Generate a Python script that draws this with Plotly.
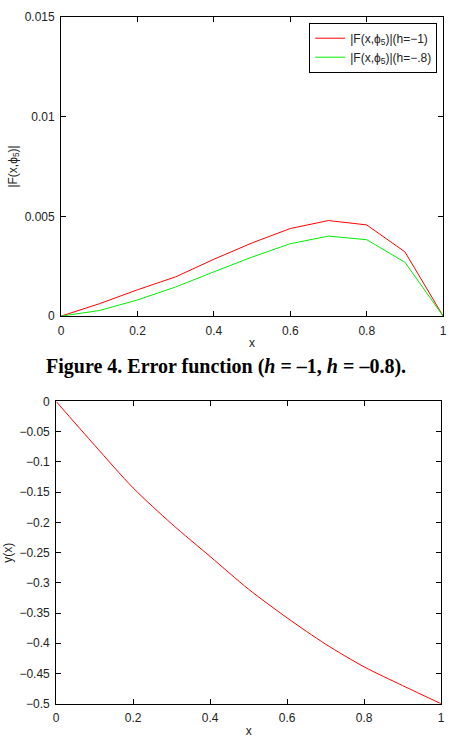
import plotly.graph_objects as go

# ---- data ----
x_err = [0, 0.1, 0.2, 0.3, 0.4, 0.5, 0.6, 0.7, 0.8, 0.9, 1.0]
err_h1 = [0, 0.00062, 0.00132, 0.00197, 0.00285, 0.00367, 0.00439, 0.00479, 0.00457, 0.00322, 0]
err_h08 = [0, 0.00028, 0.00081, 0.00146, 0.00222, 0.00296, 0.00363, 0.00401, 0.00383, 0.00270, 0]

x_sol = [0, 0.1, 0.2, 0.3, 0.4, 0.5, 0.6, 0.7, 0.8, 0.9, 1.0]
y_sol = [0, -0.0725, -0.143, -0.2024, -0.2565, -0.3106, -0.358, -0.4015, -0.439, -0.470, -0.5]

top_xticks = [0, 0.2, 0.4, 0.6, 0.8, 1]
top_xlabels = ["0", "0.2", "0.4", "0.6", "0.8", "1"]
top_yticks = [0, 0.005, 0.01, 0.015]
top_ylabels = ["0", "0.005", "0.01", "0.015"]
bot_yticks = [0, -0.05, -0.1, -0.15, -0.2, -0.25, -0.3, -0.35, -0.4, -0.45, -0.5]
bot_ylabels = ["0", "\u22120.05", "\u22120.1", "\u22120.15", "\u22120.2", "\u22120.25",
               "\u22120.3", "\u22120.35", "\u22120.4", "\u22120.45", "\u22120.5"]

W, H = 456, 750
FONT = "Liberation Sans, Arial, sans-serif"
TICKC = "#222222"

fig = go.Figure()
fig.add_trace(go.Scatter(x=x_err, y=err_h1, mode="lines", line=dict(color="#ff0000", width=1),
                         name="|F(x,\u03d5<sub>5</sub>)|(h=\u22121)", xaxis="x", yaxis="y"))
fig.add_trace(go.Scatter(x=x_err, y=err_h08, mode="lines", line=dict(color="#00ee00", width=1),
                         name="|F(x,\u03d5<sub>5</sub>)|(h=\u2212.8)", xaxis="x", yaxis="y"))
fig.add_trace(go.Scatter(x=x_sol, y=y_sol, mode="lines",
                         line=dict(color="#ff0000", width=1, shape="spline", smoothing=0.8),
                         showlegend=False, xaxis="x2", yaxis="y2"))

axcommon = dict(showline=True, linecolor="black", linewidth=1, mirror="ticks",
                ticks="inside", ticklen=5, tickcolor="black", showgrid=False, zeroline=False,
                ticklabelstandoff=3,
                tickfont=dict(family=FONT, size=12, color=TICKC))

fig.update_layout(
    width=W, height=H,
    margin=dict(l=0, r=0, t=0, b=0),
    paper_bgcolor="white", plot_bgcolor="white",
    font=dict(family=FONT, size=12, color=TICKC),
    xaxis=dict(domain=[59 / W, 447 / W], range=[0, 1], tickvals=top_xticks, ticktext=top_xlabels,
               anchor="y", title=dict(text="x", font=dict(size=12), standoff=2), **axcommon),
    yaxis=dict(domain=[1 - 315 / H, 1 - 10 / H], range=[0, 0.015], tickvals=top_yticks,
               ticktext=top_ylabels, anchor="x",
               title=dict(text="|F(x,\u03d5<sub>5</sub>)|", font=dict(size=12), standoff=4), **axcommon),
    xaxis2=dict(domain=[54 / W, 445 / W], range=[0, 1], tickvals=top_xticks, ticktext=top_xlabels,
                anchor="y2", title=dict(text="x", font=dict(size=12), standoff=2), **axcommon),
    yaxis2=dict(domain=[1 - 710 / H, 1 - 402 / H], range=[-0.5, 0], tickvals=bot_yticks,
                ticktext=bot_ylabels, anchor="x2",
                title=dict(text="y(x)", font=dict(size=12), standoff=4), **axcommon),
    legend=dict(x=441 / W, xanchor="right", y=1 - 16 / H, yanchor="top",
                bordercolor="black", borderwidth=1, bgcolor="white",
                font=dict(family=FONT, size=12, color=TICKC), tracegroupgap=0),
    annotations=[dict(
        text="<b>Figure 4. Error function (<i>h</i> = \u20131, <i>h</i> = \u20130.8).</b>",
        x=226 / W, y=1 - 366 / H, xref="paper", yref="paper", showarrow=False,
        xanchor="center", yanchor="middle",
        font=dict(family="Liberation Serif, Times New Roman, serif", size=20, color="black"))],
)

fig.write_html("out.html")
